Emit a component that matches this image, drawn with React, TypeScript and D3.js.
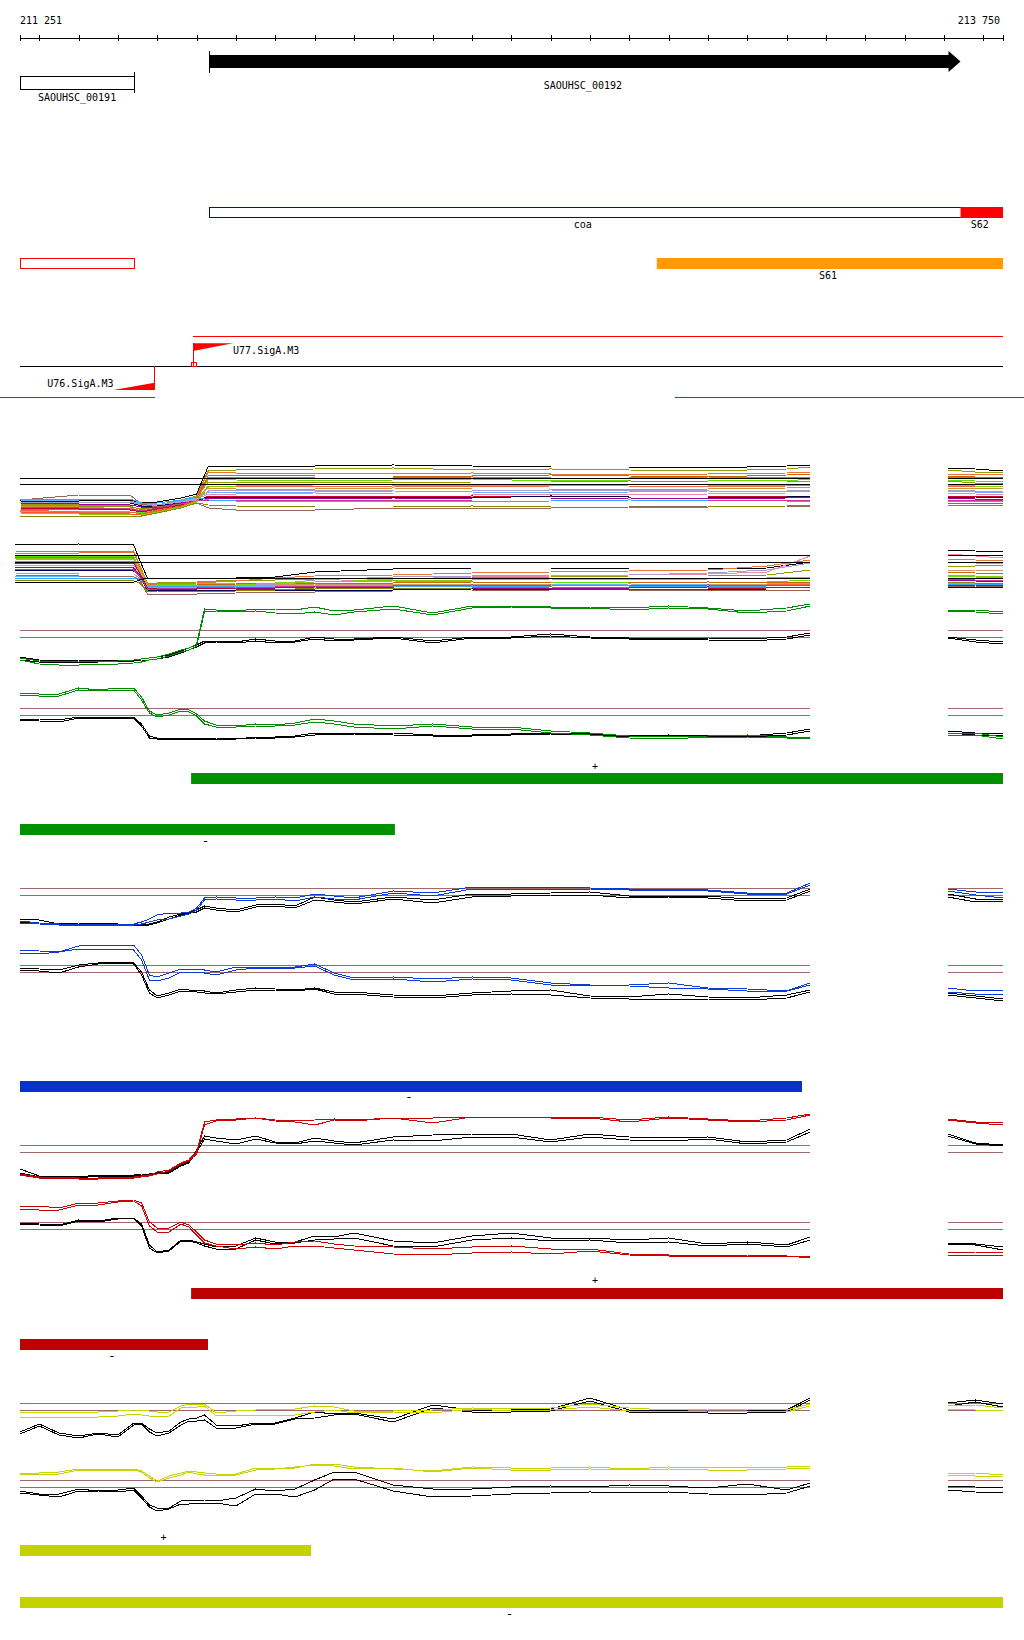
import React from 'react';
import * as d3 from 'd3';

// ---------- region / axis ----------
const REGION_START = 211251;
const REGION_END = 213750;
const AXIS_LABELS = ['211 251', '213 750'];

// ---------- annotations ----------
const GENES = [
  { name: 'SAOUHSC_00191', start: 211251, end: 211541, strand: '-' },
  { name: 'SAOUHSC_00192', start: 211732, end: 213642, strand: '+' },
];
const FEATURES_ROW1 = [
  { name: 'coa', start: 211732, end: 213642, kind: 'outlineBlue' },
  { name: 'S62', start: 213642, end: 213750, kind: 'fillRed' },
];
const FEATURES_ROW2 = [
  { name: '', start: 211251, end: 211541, kind: 'outlineRed' },
  { name: 'S61', start: 212870, end: 213750, kind: 'fillOrange' },
];
const PROMOTERS = [
  { name: 'U77.SigA.M3', pos: 211691, strand: '+' },
  { name: 'U76.SigA.M3', pos: 211593, strand: '-' },
];
const TU_LINES = [
  { start: 211691, end: 213750, row: 'plus' },
  { start: 211200, end: 211593, row: 'minus' },
  { start: 212915, end: 213805, row: 'minus' },
];

// ---------- segment bars ----------
const BARS = [
  { group: 'green', strand: '+', start: 211686, end: 213750 },
  { group: 'green', strand: '-', start: 211251, end: 212204 },
  { group: 'blue', strand: '-', start: 211251, end: 213239 },
  { group: 'red', strand: '+', start: 211686, end: 213750 },
  { group: 'red', strand: '-', start: 211251, end: 211729 },
  { group: 'yellow', strand: '+', start: 211251, end: 211991 },
  { group: 'yellow', strand: '-', start: 211251, end: 213750 },
];

// ---------- profile positions (bp) ----------
const POS = [211251, 211300, 211350, 211400, 211450, 211500, 211540, 211560, 211580, 211600,
  211630, 211660, 211680, 211700, 211720, 211750, 211800, 211850, 211900, 211950,
  212000, 212050, 212100, 212200, 212300, 212400, 212500, 212600, 212700, 212800,
  212900, 213000, 213100, 213200, 213260, 213610, 213680, 213750];
const MA_POS = [211251, 211400, 211530, 211560, 211600, 211660, 211700, 211730, 211800, 212000,
  212200, 212400, 212600, 212800, 213000, 213200, 213260, 213610, 213680, 213750];
const MB_POS = [211238, 211400, 211540, 211555, 211575, 211600, 211700, 211800, 211900, 212000,
  212200, 212400, 212600, 212800, 213000, 213150, 213260, 213610, 213680, 213750];

// ---------- multi-condition track A ----------
const TRACK_A_VALUES = [
  [20, 20, 20, 17, 18, 22, 26, 54, 54, 54, 55, 54, 53, 53, 52, 54, 55, 52, 51, 49],
  [15, 14, 13, 11, 15, 20, 24, 50, 50, 51, 52, 50, 51, 50, 49, 51, 53, 50, 48, 48],
  [13, 12, 12, 9, 13, 18, 23, 48, 47, 47, 46, 47, 46, 45, 46, 47, 48, 46, 45, 46],
  [11, 10, 10, 8, 12, 17, 22, 45, 45, 44, 44, 44, 45, 44, 43, 45, 46, 44, 43, 43],
  [9, 9, 8, 7, 11, 16, 21, 41, 40, 39, 40, 41, 39, 40, 40, 39, 41, 40, 39, 38],
  [16, 15, 14, 10, 14, 19, 23, 38, 38, 38, 37, 38, 38, 39, 38, 38, 39, 39, 37, 37],
  [10, 8, 8, 6, 10, 15, 20, 34, 34, 33, 34, 33, 34, 34, 33, 34, 35, 34, 34, 33],
  [14, 13, 11, 9, 13, 18, 22, 32, 31, 31, 32, 31, 31, 30, 31, 32, 33, 32, 31, 32],
  [20, 19, 19, 16, 15, 19, 22, 28, 28, 28, 29, 28, 27, 28, 29, 28, 29, 29, 28, 28],
  [18, 17, 17, 15, 14, 18, 21, 26, 26, 27, 26, 26, 26, 25, 26, 27, 27, 27, 26, 25],
  [12, 11, 10, 8, 11, 15, 19, 24, 24, 24, 23, 24, 23, 24, 24, 23, 24, 24, 23, 24],
  [17, 16, 15, 13, 13, 17, 20, 22, 22, 21, 22, 21, 21, 22, 21, 22, 23, 22, 21, 21],
  [19, 18, 17, 14, 14, 18, 20, 23, 23, 23, 23, 22, 24, 23, 23, 23, 24, 23, 23, 22],
  [18, 18, 18, 16, 15, 18, 20, 29, 30, 30, 29, 29, 30, 29, 30, 30, 30, 30, 29, 29],
  [13, 12, 11, 9, 12, 16, 19, 20, 20, 20, 20, 19, 19, 20, 20, 19, 20, 20, 19, 20],
  [20, 25, 25, 16, 13, 16, 17, 12, 10, 10, 12, 12, 12, 13, 14, 14, 14, 17, 17, 17],
  [8, 7, 6, 5, 9, 14, 19, 43, 43, 42, 42, 43, 42, 42, 43, 42, 43, 43, 42, 42],
  [7, 6, 5, 5, 8, 13, 18, 33, 34, 35, 35, 35, 34, 35, 35, 34, 34, 35, 34, 34],
  [4, 4, 4, 4, 7, 12, 17, 15, 14, 13, 13, 14, 13, 13, 13, 14, 15, 15, 15, 15],
  [21, 21, 21, 17, 17, 20, 23, 20, 19, 19, 19, 18, 19, 20, 19, 19, 19, 19, 19, 19],
];
const TRACK_A_FLAT = [41.7, 35.7];

// ---------- multi-condition track B ----------
const TRACK_B_VALUES = [
  [55, 56, 55, 40, 22, 22, 22, 22, 23, 28, 31, 32, 32, 31, 31, 32, 38, 50, 49, 48],
  [49, 48, 49, 35, 17, 17, 18, 20, 20, 21, 22, 22, 23, 24, 24, 25, 30, 34, 34, 35],
  [47, 47, 48, 34, 16, 16, 17, 19, 22, 24, 25, 27, 28, 29, 30, 34, 40, 41, 40, 39],
  [44, 44, 44, 32, 15, 15, 16, 17, 17, 18, 19, 18, 18, 17, 18, 18, 20, 24, 23, 22],
  [43, 43, 43, 31, 14, 14, 15, 16, 17, 17, 17, 18, 17, 17, 18, 17, 18, 28, 27, 26],
  [41, 40, 41, 30, 13, 13, 14, 15, 15, 16, 16, 16, 15, 16, 16, 16, 17, 30, 30, 29],
  [39, 39, 39, 28, 12, 12, 13, 14, 14, 14, 14, 14, 15, 14, 14, 15, 16, 18, 17, 17],
  [35, 35, 35, 26, 12, 12, 13, 14, 16, 18, 21, 23, 24, 25, 26, 28, 44, 46, 44, 42],
  [27, 26, 26, 22, 11, 11, 12, 14, 16, 20, 23, 24, 25, 25, 27, 30, 37, 38, 37, 36],
  [24, 24, 23, 21, 13, 13, 13, 14, 14, 15, 15, 15, 15, 16, 15, 15, 15, 17, 16, 16],
  [22, 22, 22, 20, 14, 14, 14, 13, 13, 13, 14, 13, 14, 14, 13, 14, 14, 16, 16, 15],
  [33, 33, 32, 25, 11, 11, 11, 12, 12, 13, 12, 12, 12, 12, 13, 12, 13, 20, 19, 18],
  [37, 37, 37, 27, 12, 12, 12, 11, 11, 11, 12, 11, 11, 11, 11, 12, 12, 15, 15, 14],
  [30, 30, 29, 24, 10, 10, 10, 10, 10, 10, 10, 11, 10, 10, 10, 11, 11, 13, 13, 13],
  [25, 24, 23, 20, 6, 6, 6, 7, 8, 8, 9, 9, 10, 10, 10, 10, 10, 14, 14, 13],
  [20, 20, 19, 17, 9, 9, 8, 9, 10, 12, 12, 12, 13, 12, 12, 13, 13, 18, 17, 17],
  [42, 42, 42, 31, 15, 15, 15, 15, 17, 18, 20, 20, 21, 20, 21, 22, 23, 25, 24, 23],
  [31, 31, 30, 24, 11, 11, 12, 13, 13, 14, 14, 15, 14, 14, 15, 14, 15, 21, 20, 20],
  [18, 18, 18, 20, 22, 22, 22, 22, 22, 22, 22, 22, 22, 22, 22, 22, 22, 22, 22, 22],
];
const TRACK_B_FLAT = [44.3, 37.7];

// ---------- two-condition tracks (colour pair + black pair) ----------
const C_COLOR_A = [12, 9, 8, 9, 9, 9, 10, 11, 12, 13, 16, 20, 22, 26, 61, 60, 59, 61, 61, 60, 63, 59, 60, 64, 57, 64, 64, 63, 63, 62, 64, 62, 59, 62, 66, 60, 60, 58];
const C_COLOR_B = [10, 6, 5, 5, 6, 6, 7, 8, 10, 11, 14, 18, 20, 24, 58, 59, 58, 59, 57, 56, 58, 55, 58, 61, 55, 62, 63, 62, 62, 60, 62, 61, 57, 59, 64, 59, 58, 56];
const C_BLACK_A = [13, 10, 9, 10, 10, 10, 10, 11, 12, 13, 15, 19, 22, 25, 29, 29, 28, 31, 29, 29, 33, 31, 31, 33, 29, 33, 33, 36, 33, 32, 32, 32, 31, 33, 37, 33, 30, 28];
const C_BLACK_B = [10, 8, 8, 8, 8, 9, 9, 10, 10, 11, 13, 17, 20, 23, 27, 28, 27, 29, 27, 28, 31, 29, 30, 32, 27, 32, 32, 34, 32, 31, 31, 30, 29, 31, 35, 32, 28, 26];
const C_THRESH = [40, 33];

const D_COLOR_A = [52, 51, 51, 57, 55, 57, 57, 48, 34, 30, 32, 36, 35, 31, 24, 20, 19, 21, 20, 22, 26, 24, 21, 19, 21, 18, 18, 14, 12, 9, 8, 9, 10, 8, 8, 12, 12, 8];
const D_COLOR_B = [50, 49, 49, 55, 54, 55, 55, 45, 32, 28, 30, 34, 33, 29, 21, 18, 18, 19, 19, 20, 23, 21, 18, 16, 19, 16, 16, 12, 10, 7, 6, 8, 8, 7, 7, 10, 10, 6];
const D_BLACK_A = [26, 26, 25, 28, 28, 28, 28, 21, 9, 7, 6, 7, 7, 7, 7, 7, 6, 8, 8, 9, 12, 12, 12, 12, 10, 10, 11, 12, 11, 9, 10, 9, 9, 12, 16, 14, 12, 12];
const D_BLACK_B = [25, 24, 23, 27, 27, 27, 27, 19, 7, 6, 5, 6, 6, 6, 6, 6, 6, 7, 7, 8, 10, 11, 11, 10, 9, 9, 10, 11, 10, 8, 9, 8, 8, 10, 14, 12, 10, 10];
const D_THRESH = [37, 30];

const E_COLOR_A = [9, 7, 6, 6, 6, 6, 6, 8, 11, 15, 17, 17, 18, 22, 32, 33, 32, 32, 33, 32, 36, 34, 32, 39, 37, 43, 43, 43, 42, 41, 41, 40, 37, 37, 47, 41, 38, 37];
const E_COLOR_B = [7, 6, 5, 5, 5, 5, 5, 6, 8, 10, 11, 14, 16, 20, 30, 31, 30, 30, 31, 29, 33, 31, 30, 37, 34, 41, 41, 41, 41, 40, 40, 39, 36, 36, 45, 39, 35, 32];
const E_BLACK_A = [11, 10, 6, 7, 7, 6, 6, 5, 6, 8, 13, 16, 18, 20, 24, 22, 20, 25, 26, 24, 33, 30, 28, 33, 30, 36, 36, 37, 38, 34, 34, 34, 31, 32, 41, 36, 31, 31];
const E_BLACK_B = [8, 6, 5, 5, 6, 5, 5, 4, 5, 7, 11, 15, 17, 18, 22, 20, 18, 23, 24, 22, 30, 28, 26, 31, 27, 33, 34, 35, 35, 32, 33, 32, 29, 30, 39, 33, 28, 29];
const E_THRESH = [42, 35];

const F_COLOR_A = [60, 59, 58, 64, 65, 65, 65, 55, 35, 33, 37, 41, 41, 41, 40, 38, 43, 43, 43, 43, 46, 37, 32, 33, 31, 33, 32, 27, 25, 25, 27, 22, 21, 19, 27, 22, 19, 20];
const F_COLOR_B = [57, 56, 58, 61, 61, 61, 60, 50, 30, 29, 32, 38, 38, 38, 37, 35, 40, 42, 42, 42, 44, 35, 30, 31, 28, 31, 30, 25, 25, 24, 22, 21, 19, 19, 25, 18, 16, 16];
const F_BLACK_A = [42, 41, 40, 45, 47, 48, 47, 38, 20, 14, 17, 21, 20, 20, 19, 17, 20, 22, 21, 20, 22, 18, 18, 15, 14, 17, 19, 20, 14, 13, 16, 13, 12, 15, 20, 17, 14, 11];
const F_BLACK_B = [40, 39, 37, 43, 46, 47, 46, 35, 17, 12, 15, 19, 19, 18, 17, 16, 18, 20, 20, 19, 21, 16, 16, 13, 12, 15, 16, 15, 12, 11, 11, 11, 10, 12, 18, 15, 12, 9];
const F_THRESH = [45, 38];

const G_COLOR_A = [16, 13, 13, 12, 12, 13, 13, 14, 15, 18, 20, 27, 30, 38, 68, 70, 71, 72, 70, 69, 70, 71, 70, 72, 72, 73, 73, 73, 73, 70, 73, 71, 69, 72, 76, 71, 68, 67];
const G_COLOR_B = [15, 12, 12, 11, 11, 12, 12, 13, 14, 16, 19, 26, 29, 36, 65, 69, 70, 72, 69, 68, 65, 70, 69, 72, 67, 73, 73, 72, 72, 68, 72, 70, 68, 70, 75, 70, 67, 65];
const G_BLACK_A = [21, 14, 14, 13, 15, 15, 15, 16, 16, 17, 18, 25, 28, 40, 54, 52, 50, 54, 48, 47, 52, 49, 47, 53, 55, 56, 56, 50, 56, 53, 52, 53, 48, 50, 61, 56, 47, 45];
const G_BLACK_B = [17, 13, 13, 12, 14, 14, 14, 15, 15, 16, 17, 24, 27, 38, 51, 49, 46, 51, 47, 46, 49, 47, 45, 50, 49, 53, 53, 48, 53, 50, 49, 51, 46, 48, 58, 54, 46, 44];
const G_THRESH = [44.7, 37.7];

const H_COLOR_A = [54, 54, 52, 57, 57, 59, 60, 57, 38, 32, 32, 38, 35, 28, 20, 16, 15, 17, 15, 18, 19, 16, 14, 13, 11, 13, 14, 11, 11, 6, 5, 5, 5, 4, 4, 8, 8, 7];
const H_COLOR_B = [51, 50, 50, 55, 55, 58, 59, 54, 34, 28, 28, 36, 33, 25, 17, 14, 11, 13, 11, 14, 14, 12, 10, 6, 5, 7, 8, 6, 9, 5, 4, 3, 4, 4, 2, 5, 5, 5];
const H_BLACK_A = [37, 36, 35, 40, 39, 42, 42, 36, 15, 8, 10, 20, 20, 18, 16, 13, 14, 22, 18, 18, 24, 23, 27, 19, 17, 24, 27, 22, 22, 20, 22, 16, 18, 15, 23, 17, 16, 13];
const H_BLACK_B = [36, 35, 34, 39, 38, 41, 42, 34, 12, 7, 9, 19, 19, 17, 14, 11, 11, 20, 16, 17, 20, 21, 22, 14, 13, 20, 22, 19, 20, 17, 18, 14, 16, 13, 20, 16, 15, 10];
const H_THRESH = [37.7, 30.7];

const I_COLOR_A = [38, 38, 38, 38, 38, 39, 40, 40, 39, 38, 38, 44, 46, 46, 46, 37, 39, 40, 41, 41, 44, 43, 39, 39, 40, 42, 41, 42, 46, 42, 40, 41, 41, 40, 46, 45, 45, 42];
const I_COLOR_B = [33, 33, 33, 33, 33, 34, 36, 35, 34, 34, 34, 42, 43, 43, 44, 34, 35, 35, 34, 35, 38, 40, 37, 38, 37, 41, 39, 40, 43, 39, 38, 39, 39, 38, 44, 41, 40, 39];
const I_BLACK_A = [18, 26, 17, 14, 17, 15, 27, 27, 21, 17, 19, 28, 31, 32, 35, 25, 24, 27, 27, 32, 38, 36, 37, 31, 45, 40, 40, 41, 52, 40, 40, 38, 39, 40, 52, 47, 50, 46];
const I_BLACK_B = [16, 24, 15, 12, 16, 13, 25, 26, 18, 14, 17, 25, 29, 29, 30, 22, 22, 26, 26, 31, 32, 35, 36, 28, 42, 38, 38, 39, 49, 38, 38, 37, 37, 38, 50, 44, 48, 43];
const I_THRESH = [46.7, 39.7];

const J_COLOR_A = [47, 47, 48, 51, 51, 51, 51, 49, 44, 39, 44, 47, 49, 48, 47, 46, 46, 52, 52, 52, 56, 56, 53, 51, 49, 53, 52, 52, 53, 51, 53, 52, 53, 53, 54, 47, 47, 45];
const J_COLOR_B = [46, 46, 46, 50, 50, 50, 50, 48, 42, 38, 42, 45, 48, 46, 45, 45, 45, 50, 51, 53, 55, 54, 51, 52, 48, 52, 50, 50, 51, 50, 51, 50, 50, 51, 52, 45, 44, 44];
const J_BLACK_A = [29, 26, 26, 31, 29, 30, 32, 24, 15, 12, 12, 19, 20, 20, 20, 19, 22, 31, 29, 31, 40, 48, 48, 35, 31, 31, 33, 34, 33, 35, 34, 32, 36, 30, 37, 34, 33, 32];
const J_BLACK_B = [27, 25, 23, 29, 29, 28, 30, 22, 13, 9, 11, 16, 16, 17, 17, 17, 14, 26, 26, 23, 30, 41, 41, 29, 23, 24, 26, 27, 28, 27, 28, 26, 25, 27, 34, 30, 28, 27];
const J_THRESH = [40, 32.7];

// ---------- styles ----------
const TRACK_A_COLORS = ['#000000', '#9a9a00', '#e8743b', '#cc6600', '#66dd00', '#999900', '#ee6644', '#cc9933',
  '#66b3ff', '#ee88aa', '#cc0033', '#990099', '#000055', '#aa99cc', '#cc3399', '#996655', '#ff5533', '#88cc00', '#888800', '#33aaff'];
const TRACK_B_COLORS = ['#000000', '#999900', '#e8743b', '#66dd00', '#cc6600', '#cc9966', '#ee6644', '#ee88aa', '#aa99cc',
  '#66b3ff', '#33aaff', '#990099', '#cc0033', '#000055', '#996655', '#888800', '#88cc00', '#cc3399', '#000000'];
const GROUP_COLORS: Record<string, { line: string; bar: string }> = {
  green: { line: '#008c00', bar: '#009000' },
  blue: { line: '#0a3ad8', bar: '#0a32c8' },
  red: { line: '#cc0000', bar: '#bd0000' },
  yellow: { line: '#c8d400', bar: '#c4d300' },
};
const THRESH_COLOR = '#a06868';
const FONT = '"DejaVu Sans Mono", "Liberation Mono", monospace';

export default function App() {
  const W = 1024, H = 1640;
  const x = d3.scaleLinear().domain([REGION_START, REGION_END]).range([20, 1003]);
  const ticks = [REGION_START, ...d3.range(211300, REGION_END, 100), REGION_END];

  const segPaths = (pos: number[], vals: number[], y: d3.ScaleLinear<number, number>, segs: number[][]) =>
    segs.map(([a, b]) =>
      d3.line<number>().x((_, i) => x(pos[a + i])).y((v) => y(v))(vals.slice(a, b)) || ''
    );

  const POS_SEGS = [[0, 35], [35, 38]];
  const M_SEGS = [[0, 17], [17, 20]];

  const lineTracks = [
    { group: 'green', bottom: 670, span: 75, color: [C_COLOR_A, C_COLOR_B], black: [C_BLACK_A, C_BLACK_B], thresh: C_THRESH },
    { group: 'green', bottom: 745, span: 65, color: [D_COLOR_A, D_COLOR_B], black: [D_BLACK_A, D_BLACK_B], thresh: D_THRESH },
    { group: 'blue', bottom: 930, span: 55, color: [E_COLOR_A, E_COLOR_B], black: [E_BLACK_A, E_BLACK_B], thresh: E_THRESH },
    { group: 'blue', bottom: 1010, span: 70, color: [F_COLOR_A, F_COLOR_B], black: [F_BLACK_A, F_BLACK_B], thresh: F_THRESH },
    { group: 'red', bottom: 1190, span: 80, color: [G_COLOR_A, G_COLOR_B], black: [G_BLACK_A, G_BLACK_B], thresh: G_THRESH },
    { group: 'red', bottom: 1260, span: 65, color: [H_COLOR_A, H_COLOR_B], black: [H_BLACK_A, H_BLACK_B], thresh: H_THRESH },
    { group: 'yellow', bottom: 1450, span: 60, color: [I_COLOR_A, I_COLOR_B], black: [I_BLACK_A, I_BLACK_B], thresh: I_THRESH },
    { group: 'yellow', bottom: 1520, span: 60, color: [J_COLOR_A, J_COLOR_B], black: [J_BLACK_A, J_BLACK_B], thresh: J_THRESH },
  ];

  const barLayout: Record<string, { y: number; labelY: number }> = {
    'green+': { y: 773, labelY: 770 },
    'green-': { y: 824, labelY: 845 },
    'blue-': { y: 1081, labelY: 1101 },
    'red+': { y: 1288, labelY: 1284 },
    'red-': { y: 1339, labelY: 1360 },
    'yellow+': { y: 1545, labelY: 1541 },
    'yellow-': { y: 1597, labelY: 1618 },
  };

  const yA = d3.scaleLinear().domain([0, 60]).range([520, 460]);
  const yB = d3.scaleLinear().domain([0, 60]).range([600, 540]);

  const flatLines = (pos: number[], y: d3.ScaleLinear<number, number>, vals: number[], segs: number[][], color: string, keyp: string) =>
    vals.flatMap((v, k) =>
      segs.map(([a, b], s) => (
        <line key={`${keyp}-${k}-${s}`} x1={x(pos[a])} x2={x(pos[b - 1])} y1={y(v)} y2={y(v)}
          stroke={color} strokeWidth={1} shapeRendering="crispEdges" />
      ))
    );

  const g191 = GENES[0];
  const g192 = GENES[1];
  const u77 = PROMOTERS[0];
  const u76 = PROMOTERS[1];
  const xp = x(u77.pos);
  const xm = x(u76.pos);
  const arrowEnd = x(g192.end);
  const arrowStart = x(g192.start);

  return (
    <svg width={W} height={H} style={{ position: 'absolute', left: 0, top: 0, background: '#fff' }}
      fontFamily={FONT} fontSize={10}>
      <rect x={0} y={0} width={W} height={H} fill="#fff" />

      {/* axis */}
      <line x1={x(REGION_START)} x2={x(REGION_END)} y1={38} y2={38} stroke="#000" shapeRendering="crispEdges" />
      {ticks.map((t, i) => (
        <line key={`t${i}`} x1={Math.round(x(t))} x2={Math.round(x(t))} y1={35} y2={41} stroke="#000" shapeRendering="crispEdges" />
      ))}
      <text x={20} y={24} fill="#000">{AXIS_LABELS[0]}</text>
      <text x={1000} y={24} fill="#000" textAnchor="end">{AXIS_LABELS[1]}</text>

      {/* genes */}
      <polygon
        points={`${arrowStart},55 ${arrowEnd - 12},55 ${arrowEnd - 12},51 ${arrowEnd},61.5 ${arrowEnd - 12},72 ${arrowEnd - 12},68 ${arrowStart},68`}
        fill="#000" />
      <line x1={arrowStart} x2={arrowStart} y1={51} y2={73} stroke="#000" shapeRendering="crispEdges" />
      <text x={(x(g192.start) + x(g192.end)) / 2 - 2} y={88.5} textAnchor="middle" fill="#000">{g192.name}</text>
      <rect x={x(g191.start) + 0.5} y={76.5} width={x(g191.end) - x(g191.start)} height={13} fill="#fff" stroke="#000" shapeRendering="crispEdges" />
      <line x1={x(g191.end)} x2={x(g191.end)} y1={72} y2={93} stroke="#000" shapeRendering="crispEdges" />
      <text x={(x(g191.start) + x(g191.end)) / 2} y={100.5} textAnchor="middle" fill="#000">{g191.name}</text>

      {/* feature rows */}
      {FEATURES_ROW1.map((f, i) => {
        const x0 = x(f.start), x1 = x(f.end);
        return (
          <g key={`f1${i}`}>
            {f.kind === 'outlineBlue' ? (
              <rect x={x0 + 0.5} y={207.5} width={x1 - x0} height={10} fill="#fff" stroke="#0000dd" shapeRendering="crispEdges" />
            ) : (
              <rect x={x0} y={207} width={x1 - x0} height={11} fill="#ff0000" />
            )}
            <text x={(x0 + x1) / 2 - 2} y={227.5} textAnchor="middle" fill="#000">{f.name}</text>
          </g>
        );
      })}
      {FEATURES_ROW2.map((f, i) => {
        const x0 = x(f.start), x1 = x(f.end);
        return (
          <g key={`f2${i}`}>
            {f.kind === 'outlineRed' ? (
              <rect x={x0 + 0.5} y={258.5} width={x1 - x0} height={10} fill="#fff" stroke="#ff0000" shapeRendering="crispEdges" />
            ) : (
              <rect x={x0} y={258} width={x1 - x0} height={11} fill="#ff9a00" />
            )}
            {f.name && <text x={(x0 + x1) / 2 - 2} y={279} textAnchor="middle" fill="#000">{f.name}</text>}
          </g>
        );
      })}

      {/* promoters / TUs */}
      {TU_LINES.map((t, i) => (
        <line key={`tu${i}`} x1={x(t.start)} x2={x(t.end)} y1={t.row === 'plus' ? 336.5 : 397.5} y2={t.row === 'plus' ? 336.5 : 397.5}
          stroke="#ff0000" shapeRendering="crispEdges" />
      ))}
      <line x1={x(REGION_START)} x2={x(REGION_END)} y1={366.5} y2={366.5} stroke="#000" shapeRendering="crispEdges" />
      <line x1={xp} x2={xp} y1={343} y2={366} stroke="#ff0000" shapeRendering="crispEdges" />
      <polygon points={`${xp},343.3 ${xp + 40},343.3 ${xp},351`} fill="#ff0000" />
      <rect x={xp - 2} y={362.5} width={5} height={4} fill="none" stroke="#ff0000" shapeRendering="crispEdges" />
      <text x={xp + 40} y={354.3} fill="#000">{u77.name}</text>
      <line x1={xm} x2={xm} y1={366} y2={390} stroke="#ff0000" shapeRendering="crispEdges" />
      <polygon points={`${xm},390 ${xm - 41},390 ${xm},382.7`} fill="#ff0000" />
      <text x={xm - 41} y={387.3} fill="#000" textAnchor="end">{u76.name}</text>

      {/* multi-condition track A */}
      {TRACK_A_VALUES.map((vals, i) =>
        segPaths(MA_POS, vals, yA, M_SEGS).map((d, s) => (
          <path key={`a${i}-${s}`} d={d} fill="none" stroke={TRACK_A_COLORS[i]} strokeWidth={1} shapeRendering="crispEdges" />
        ))
      )}
      {flatLines(MA_POS, yA, TRACK_A_FLAT, M_SEGS, '#000', 'af')}

      {/* multi-condition track B */}
      {TRACK_B_VALUES.map((vals, i) =>
        segPaths(MB_POS, vals, yB, M_SEGS).map((d, s) => (
          <path key={`b${i}-${s}`} d={d} fill="none" stroke={TRACK_B_COLORS[i]} strokeWidth={1} shapeRendering="crispEdges" />
        ))
      )}
      {flatLines(MB_POS, yB, TRACK_B_FLAT, M_SEGS, '#000', 'bf')}

      {/* two-condition tracks */}
      {lineTracks.map((t, ti) => {
        const y = d3.scaleLinear().domain([0, t.span]).range([t.bottom, t.bottom - t.span]);
        const col = GROUP_COLORS[t.group].line;
        return (
          <g key={`lt${ti}`}>
            {flatLines(POS, y, t.thresh, POS_SEGS, THRESH_COLOR, `th${ti}`)}
            {t.black.map((vals, k) =>
              segPaths(POS, vals, y, POS_SEGS).map((d, s) => (
                <path key={`k${k}-${s}`} d={d} fill="none" stroke="#000" strokeWidth={1} shapeRendering="crispEdges" />
              ))
            )}
            {t.color.map((vals, k) =>
              segPaths(POS, vals, y, POS_SEGS).map((d, s) => (
                <path key={`c${k}-${s}`} d={d} fill="none" stroke={col} strokeWidth={1} shapeRendering="crispEdges" />
              ))
            )}
          </g>
        );
      })}

      {/* segment bars */}
      {BARS.map((b, i) => {
        const lay = barLayout[b.group + b.strand];
        const x0 = x(b.start), x1 = x(b.end);
        return (
          <g key={`bar${i}`}>
            <rect x={x0} y={lay.y} width={x1 - x0} height={11} fill={GROUP_COLORS[b.group].bar} />
            <text x={(x0 + x1) / 2 - 2} y={lay.labelY} textAnchor="middle" fill="#000"
              fontSize={b.strand === '-' ? 13 : 10}>{b.strand}</text>
          </g>
        );
      })}
    </svg>
  );
}
